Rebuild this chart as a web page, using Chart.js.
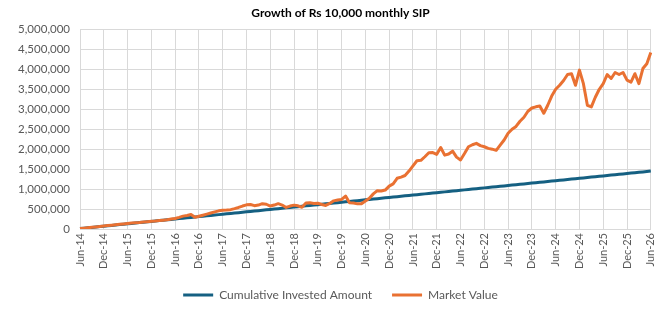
<!DOCTYPE html>
<html>
<head>
<meta charset="utf-8">
<script src="https://cdn.jsdelivr.net/npm/chart.js@4.4.1/dist/chart.umd.min.js"></script>
<style>
  html, body { margin: 0; padding: 0; background: #fff; }
  #wrap { width: 668px; height: 311px; }
</style>
</head>
<body>
<div id="wrap"><canvas id="sipChart" width="668" height="311"></canvas></div>
<script>
// Values in thousands of rupees, one per month from Jun-14 to Jun-26
const UNIT = 1000;
const START_YEAR = 2014;
const START_MONTH = 5; // June
const MONTH_NAMES = ['Jan', 'Feb', 'Mar', 'Apr', 'May', 'Jun', 'Jul', 'Aug', 'Sep', 'Oct', 'Nov', 'Dec'];

const investedAmount = [
    10, 20, 30, 40, 50, 60, 70, 80, 90, 100, 110, 120,
    130, 140, 150, 160, 170, 180, 190, 200, 210, 220, 230, 240,
    250, 260, 270, 280, 290, 300, 310, 320, 330, 340, 350, 360,
    370, 380, 390, 400, 410, 420, 430, 440, 450, 460, 470, 480,
    490, 500, 510, 520, 530, 540, 550, 560, 570, 580, 590, 600,
    610, 620, 630, 640, 650, 660, 670, 680, 690, 700, 710, 720,
    730, 740, 750, 760, 770, 780, 790, 800, 810, 820, 830, 840,
    850, 860, 870, 880, 890, 900, 910, 920, 930, 940, 950, 960,
    970, 980, 990, 1000, 1010, 1020, 1030, 1040, 1050, 1060, 1070, 1080,
    1090, 1100, 1110, 1120, 1130, 1140, 1150, 1160, 1170, 1180, 1190, 1200,
    1210, 1220, 1230, 1240, 1250, 1260, 1270, 1280, 1290, 1300, 1310, 1320,
    1330, 1340, 1350, 1360, 1370, 1380, 1390, 1400, 1410, 1420, 1430, 1440,
    1450
];

const marketValue = [
    10, 20, 31, 42, 53, 63, 74, 85, 96, 108, 117, 128,
    139, 148, 158, 165, 176, 184, 193, 200, 210, 220, 232, 248,
    262, 290, 322, 340, 362, 292, 318, 345, 372, 400, 430, 455,
    470, 475, 485, 510, 540, 575, 605, 612, 585, 600, 635, 620,
    575, 600, 635, 600, 540, 575, 598, 580, 545, 650, 655, 640,
    645, 615, 590, 640, 705, 725, 740, 825, 660, 650, 630, 630,
    700, 770, 880, 960, 950, 975, 1075, 1130, 1270, 1300, 1340, 1450,
    1580, 1710, 1720, 1810, 1910, 1915, 1870, 2040, 1850, 1880, 1950, 1800,
    1730, 1890, 2060, 2110, 2145, 2090, 2060, 2020, 2000, 1970, 2100, 2230,
    2400, 2500, 2570, 2700, 2800, 2950, 3030, 3060, 3080, 2900, 3100, 3330,
    3500, 3600, 3720, 3870, 3890, 3600, 3980, 3640, 3100, 3060, 3300, 3500,
    3640, 3870, 3770, 3920, 3870, 3920, 3730, 3680, 3890, 3640, 4020, 4140,
    4420
];

const yTicks = { min: 0, max: 5000000, step: 500000 };
const LABEL_EVERY = 6;

// Month labels like "Jun-14"
const monthLabels = investedAmount.map((_, i) => {
    const m = (START_MONTH + i) % 12;
    const y = START_YEAR + Math.floor((START_MONTH + i) / 12);
    return MONTH_NAMES[m] + '-' + String(y).slice(2);
});

const colors = {
    invested: '#156082',
    market: '#E97132',
    grid: '#d9d9d9',
    text: '#595959'
};

Chart.defaults.font.family = 'Lato, "Open Sans", sans-serif';
Chart.defaults.color = colors.text;

// The left padding only serves to centre title and legend like the original;
// let the y labels use that space instead of being clipped to the axis box.
const widenYLabels = {
    id: 'widenYLabels',
    afterLayout(chart) {
        chart.scales.y.left = 0;
    }
};

new Chart(document.getElementById('sipChart').getContext('2d'), {
    type: 'line',
    data: {
        labels: monthLabels,
        datasets: [
            {
                label: 'Cumulative Invested Amount',
                data: investedAmount.map(v => v * UNIT),
                borderColor: colors.invested,
                backgroundColor: colors.invested,
                borderWidth: 3,
                pointRadius: 0,
                tension: 0,
                order: 1
            },
            {
                label: 'Market Value',
                data: marketValue.map(v => v * UNIT),
                borderColor: colors.market,
                backgroundColor: colors.market,
                borderWidth: 3,
                pointRadius: 0,
                tension: 0,
                borderJoinStyle: 'round',
                order: 0 // drawn on top of the invested line
            }
        ]
    },
    options: {
        responsive: false,
        animation: false,
        layout: {
            padding: { left: 28, right: 15, top: 0, bottom: 0 }
        },
        plugins: {
            title: {
                display: true,
                text: 'Growth of Rs 10,000 monthly SIP',
                color: '#000',
                font: { size: 12, weight: 'bold' },
                padding: { top: 6, bottom: 9 }
            },
            legend: {
                position: 'bottom',
                labels: {
                    boxWidth: 30,
                    boxHeight: 3,
                    padding: 20,
                    font: { size: 12 },
                    color: colors.text,
                    sort: (a, b) => a.datasetIndex - b.datasetIndex,
                    generateLabels: chart => {
                        const items = Chart.defaults.plugins.legend.labels.generateLabels(chart);
                        items.forEach(item => { item.lineWidth = 0; });
                        return items;
                    }
                }
            },
            tooltip: { enabled: false }
        },
        scales: {
            x: {
                offset: false,
                grid: {
                    color: colors.grid,
                    drawTicks: false
                },
                border: { color: colors.grid },
                ticks: {
                    autoSkip: false,
                    minRotation: 90,
                    maxRotation: 90,
                    padding: 4,
                    font: { size: 11 },
                    callback: function(value, index) {
                        return index % LABEL_EVERY === 0 ? this.getLabelForValue(value) : null;
                    }
                },
                afterFit: scale => { scale.height = 40; }
            },
            y: {
                min: yTicks.min,
                max: yTicks.max,
                grid: {
                    color: colors.grid,
                    drawTicks: false
                },
                border: { display: false },
                ticks: {
                    stepSize: yTicks.step,
                    padding: 10,
                    font: { size: 11.5 },
                    callback: value => value.toLocaleString('en-US')
                },
                afterFit: scale => { scale.width = 52; }
            }
        }
    },
    plugins: [widenYLabels]
});
</script>
</body>
</html>
